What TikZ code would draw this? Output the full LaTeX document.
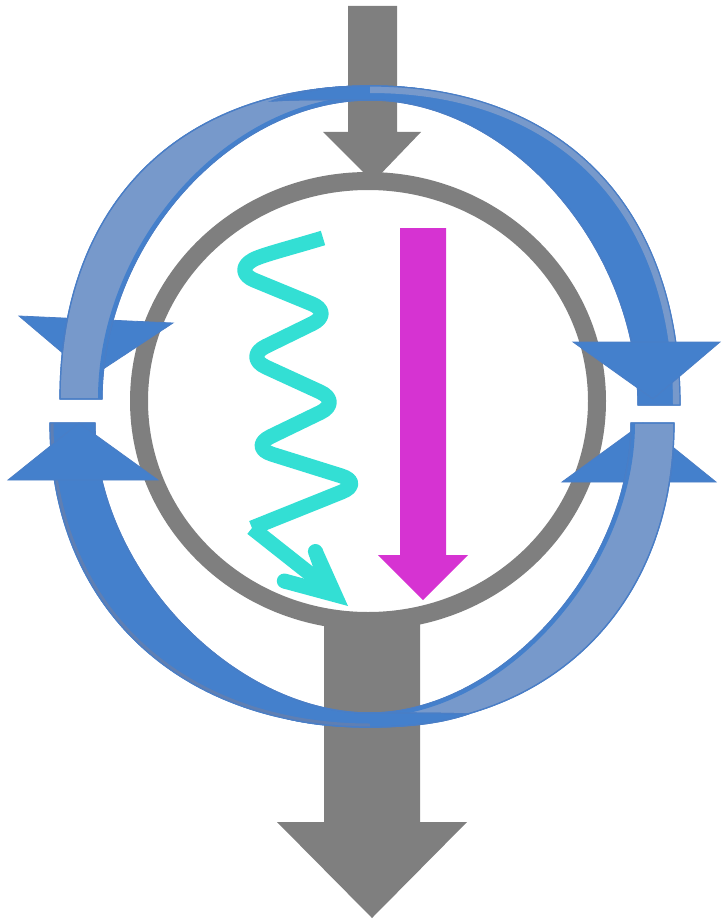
\documentclass[tikz,border=0pt]{standalone}
\definecolor{ggray}{HTML}{7F7F7F}
\definecolor{bdark}{HTML}{4480CC}
\definecolor{blight}{HTML}{7799CB}
\definecolor{bedge}{HTML}{4A7EC6}
\definecolor{bstrip}{HTML}{5F7FB3}
\definecolor{cyanw}{HTML}{33DFD4}
\definecolor{magen}{HTML}{D633D2}
\tikzset{
  grayshape/.style={fill=ggray},
  bandlight/.style={fill=blight, draw=bedge, line width=1.2pt, line join=round},
  banddark/.style={fill=bdark, draw=bedge, line width=1.2pt, line join=round},
  headstyle/.style={fill=bdark, draw=bedge, line width=0.8pt, line join=miter},
  wave/.style={draw=cyanw, line width=15pt, line join=round},
}
\begin{document}
\begin{tikzpicture}[x=1pt,y=-1pt]
\useasboundingbox (0,0) rectangle (721,923);
% gray ring and arrows
\draw[ggray, line width=18pt] (368,401) ellipse [x radius=229, y radius=220];
\fill[grayshape] (348,6) -- (397,6) -- (397,132) -- (421,132) -- (373,182) -- (323,132) -- (348,132) -- cycle;
\fill[grayshape] (324,615) -- (420,615) -- (420,822) -- (467,822) -- (372,918) -- (277,822) -- (324,822) -- cycle;
% magenta arrow
\fill[magen] (400,228) -- (446,228) -- (446,555) -- (468,555) -- (423,600) -- (378,555) -- (400,555) -- cycle;
% cyan wavy arrow
\draw[wave, rounded corners=24pt] (323,238) .. controls (290,248) and (262,255) .. (232,271)
  -- (334,313) -- (244,357) -- (342,402) -- (249,447) -- (364,483) -- (252,528);
\draw[wave] (252,528) -- (333,592);
\fill[cyanw] (348,606) -- (322,548) -- (308.8,555) -- (318.5,582.5) -- (286.3,573.8) -- (282.4,588.3) -- cycle;
\fill[cyanw] (315.4,551.5) circle [radius=7.5];
\fill[cyanw] (284.3,581) circle [radius=7.5];
% top-left blue arrow (head under band)
\draw[headstyle] (19,316) -- (173,323) -- (91,377) -- cycle;
\path[bandlight] (60,399) .. controls (60,205) and (178,86) .. (370,86) .. controls (415,86) and (445,92) .. (468,101) .. controls (440,99) and (405,100) .. (370,100) .. controls (231,100) and (102,244) .. (102,399) -- cycle;
\begin{scope}
\clip (60,399) .. controls (60,205) and (178,86) .. (370,86) -- (370,100) .. controls (231,100) and (102,244) .. (102,399) -- cycle;
\draw[bdark, line width=8pt] (370,100) .. controls (231,100) and (102,244) .. (102,399);
\end{scope}
\draw[bedge, line width=1.2pt] (60,399) .. controls (60,205) and (178,86) .. (370,86) .. controls (415,86) and (445,92) .. (468,101) .. controls (440,99) and (405,100) .. (370,100) .. controls (231,100) and (102,244) .. (102,399) -- cycle;
% bottom-right blue arrow (head under band)
\draw[headstyle] (562,482) -- (716,482) -- (643,423) -- cycle;
\path[bandlight] (674,423) .. controls (674,605) and (552,727) .. (370,727) .. controls (325,727) and (295,722) .. (272,714) .. controls (300,713) and (335,713) .. (370,713) .. controls (500,713) and (631,568) .. (631,423) -- cycle;
\begin{scope}
\clip (674,423) .. controls (674,605) and (552,727) .. (370,727) -- (370,713) .. controls (500,713) and (631,568) .. (631,423) -- cycle;
\draw[bdark, line width=8pt] (370,713) .. controls (500,713) and (631,568) .. (631,423);
\end{scope}
\draw[bedge, line width=1.2pt] (674,423) .. controls (674,605) and (552,727) .. (370,727) .. controls (325,727) and (295,722) .. (272,714) .. controls (300,713) and (335,713) .. (370,713) .. controls (500,713) and (631,568) .. (631,423) -- cycle;
% top-right blue arrow (head over band)
\path[banddark] (680,405) .. controls (680,207) and (562,86) .. (370,86) .. controls (325,86) and (295,92) .. (272,101) .. controls (300,99) and (335,100) .. (370,100) .. controls (509,100) and (638,246) .. (638,405) -- cycle;
\begin{scope}
\clip (680,405) .. controls (680,207) and (562,86) .. (370,86) -- (370,100) .. controls (509,100) and (638,246) .. (638,405) -- cycle;
\draw[blight, line width=14pt] (680,405) .. controls (680,207) and (562,86) .. (370,86);
\end{scope}
\draw[bedge, line width=1.2pt] (680,405) .. controls (680,207) and (562,86) .. (370,86) .. controls (325,86) and (295,92) .. (272,101) .. controls (300,99) and (335,100) .. (370,100) .. controls (509,100) and (638,246) .. (638,405) -- cycle;
\draw[headstyle] (573,342) -- (720,342) -- (653,399) -- cycle;
% bottom-left blue arrow (head over band)
\path[banddark] (50,423) .. controls (50,605) and (178,727) .. (370,727) .. controls (415,727) and (445,722) .. (468,714) .. controls (440,713) and (405,713) .. (370,713) .. controls (232,713) and (95,568) .. (95,423) -- cycle;
\begin{scope}
\clip (50,423) .. controls (50,605) and (178,727) .. (370,727) -- (370,713) .. controls (232,713) and (95,568) .. (95,423) -- cycle;
\draw[bstrip, line width=7pt] (50,423) .. controls (50,605) and (178,727) .. (370,727);
\end{scope}
\draw[bedge, line width=1.2pt] (50,423) .. controls (50,605) and (178,727) .. (370,727) .. controls (415,727) and (445,722) .. (468,714) .. controls (440,713) and (405,713) .. (370,713) .. controls (232,713) and (95,568) .. (95,423) -- cycle;
\draw[headstyle] (8,480) -- (158,480) -- (79,423) -- cycle;
\end{tikzpicture}
\end{document}
